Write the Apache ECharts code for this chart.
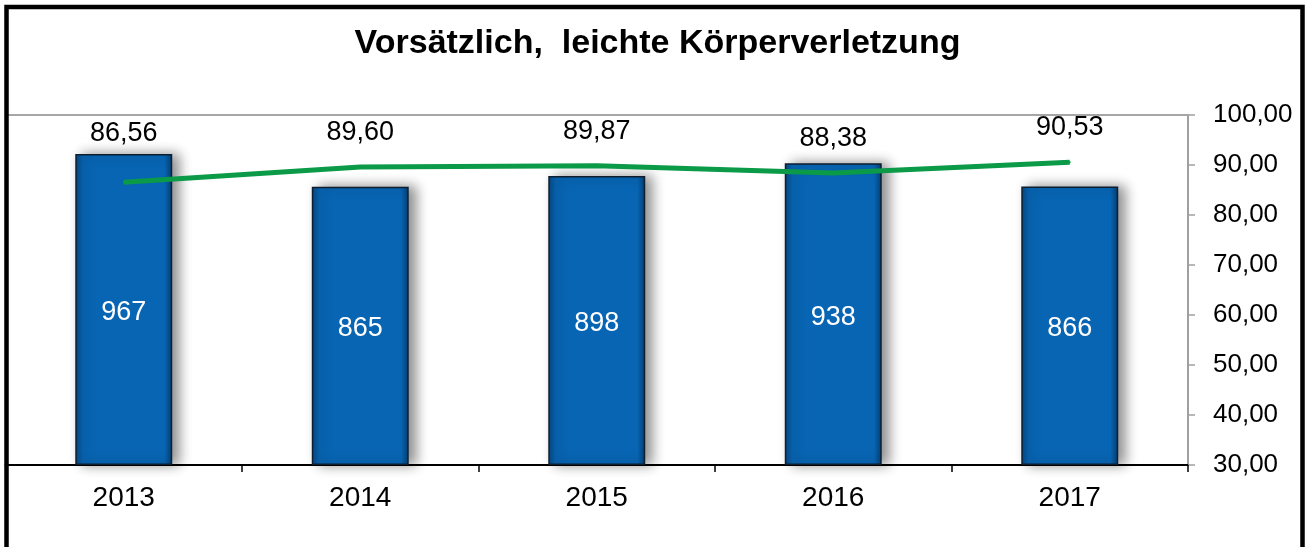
<!DOCTYPE html>
<html>
<head>
<meta charset="utf-8">
<script src="https://cdn.jsdelivr.net/npm/echarts@6/dist/echarts.min.js"></script>
<style>
html,body{margin:0;padding:0;background:#fff;}
#c{width:1315px;height:547px;}
</style>
</head>
<body>
<div id="c"></div>
<script>
const titleText = 'Vorsätzlich,  leichte Körperverletzung';
const years = ['2013', '2014', '2015', '2016', '2017'];
const caseCounts = [967, 865, 898, 938, 866];
const clearanceRates = [86.56, 89.60, 89.87, 88.38, 90.53];
const rateTicks = ['30,00','40,00','50,00','60,00','70,00','80,00','90,00','100,00'];

const FONT = "'Liberation Sans', Arial, sans-serif";
const fmt = v => v.toFixed(2).replace('.', ',');

const chart = echarts.init(document.getElementById('c'), null, {renderer: 'canvas'});
chart.setOption({
  animation: false,
  backgroundColor: '#fff',
  title: {
    text: titleText,
    left: 'center',
    top: 22,
    textStyle: {fontFamily: FONT, fontWeight: 'bold', fontSize: 34, color: '#000'}
  },
  graphic: [{
    type: 'rect',
    shape: {x: 6.5, y: 7, width: 1296, height: 600},
    style: {fill: 'none', stroke: '#000', lineWidth: 4.5},
    z: 100
  }],
  grid: {left: 5.5, right: 127, top: 115, bottom: 82},
  xAxis: [{
    type: 'category',
    data: years,
    boundaryGap: true,
    axisLine: {lineStyle: {color: '#000', width: 2}},
    axisTick: {show: true, length: 7, lineStyle: {color: '#000', width: 1.5}},
    axisLabel: {fontFamily: FONT, fontSize: 28, color: '#000', margin: 19}
  }, {
    type: 'category',
    data: years,
    position: 'top',
    axisLine: {lineStyle: {color: '#a6a6a6', width: 2}},
    axisTick: {show: false},
    axisLabel: {show: false}
  }],
  yAxis: [{
    type: 'value',
    min: 0,
    max: 1088,
    show: false,
    splitLine: {show: false}
  }, {
    type: 'value',
    position: 'right',
    min: 30,
    max: 100,
    interval: 10,
    axisLine: {show: true, lineStyle: {color: '#a0a0a0', width: 2}},
    axisTick: {show: true, length: 7, lineStyle: {color: '#a0a0a0', width: 1.5}},
    splitLine: {show: false},
    axisLabel: {
      fontFamily: FONT, fontSize: 26, color: '#000', margin: 25,
      formatter: v => rateTicks[Math.round((v - 30) / 10)]
    }
  }],
  series: [{
    type: 'bar',
    data: caseCounts,
    xAxisIndex: 0,
    yAxisIndex: 0,
    barWidth: '41%',
    itemStyle: {
      color: {
        type: 'linear', x: 0, y: 0, x2: 1, y2: 0,
        colorStops: [
          {offset: 0, color: '#06457f'},
          {offset: 0.08, color: '#0865b3'},
          {offset: 0.92, color: '#0865b3'},
          {offset: 1, color: '#053e72'}
        ]
      },
      borderColor: '#0d1e30',
      borderWidth: 1.5,
      shadowColor: 'rgba(0,0,0,0.45)',
      shadowBlur: 12,
      shadowOffsetX: 7,
      shadowOffsetY: 0
    },
    label: {
      show: true,
      position: 'inside',
      offset: [0, 3],
      color: '#fff',
      fontFamily: FONT,
      fontSize: 27
    },
    z: 2
  }, {
    type: 'line',
    data: clearanceRates.map((v, i) => i === 0 ? {value: v, label: {offset: [0, -14]}} : v),
    xAxisIndex: 0,
    yAxisIndex: 1,
    symbol: 'circle',
    symbolSize: 2,
    lineStyle: {color: '#0a9a48', width: 5},
    itemStyle: {color: '#0a9a48'},
    label: {
      show: true,
      position: 'top',
      distance: 20,
      color: '#000',
      fontFamily: FONT,
      fontSize: 27,
      formatter: p => fmt(p.value)
    },
    z: 5
  }]
});
</script>
</body>
</html>
